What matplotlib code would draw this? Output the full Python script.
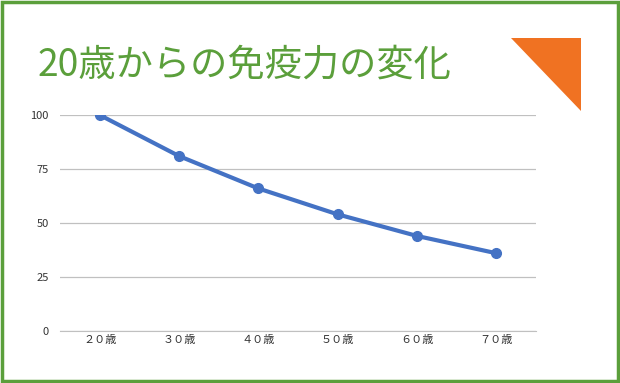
import matplotlib.pyplot as plt
from matplotlib.patches import Polygon, Rectangle

plt.rcParams['font.family'] = ['Noto Sans CJK JP', 'DejaVu Sans']

ages = ["２０歳", "３０歳", "４０歳", "５０歳", "６０歳", "７０歳"]
immunity = [100, 81, 66, 54, 44, 36]
yticks = [0, 25, 50, 75, 100]

fig = plt.figure(figsize=(6.2, 3.83), dpi=100)

# green frame round the whole picture
fig.patches.append(Rectangle((0.0025, 0.004), 0.995, 0.992, transform=fig.transFigure,
                             fill=False, edgecolor="#5b9f3b", linewidth=2.5))

# title
fig.text(38 / 620, 1 - 76 / 383, "20歳からの免疫力の変化", fontsize=26.8,
         color="#5b9f3b", ha="left", va="baseline")

# orange corner triangle
fig.patches.append(Polygon([(511 / 620, 1 - 38 / 383), (581 / 620, 1 - 38 / 383),
                            (581 / 620, 1 - 111 / 383)], closed=True,
                           transform=fig.transFigure, facecolor="#f07222", edgecolor="none"))

ax = fig.add_axes([60 / 620, 1 - 331 / 383, 476 / 620, 216 / 383])
x = [i + 0.5 for i in range(len(ages))]
ax.plot(x, immunity, color="#4472c4", linewidth=3, marker="o", markersize=7,
        solid_capstyle="round", zorder=3)

ax.set_xlim(0, len(ages))
ax.set_ylim(0, 100)
ax.set_yticks(yticks)
ax.set_xticks(x)
ax.set_xticklabels(ages)
ax.grid(axis="y", color="#c0c0c0", linewidth=0.9)
for s in ["top", "right", "left"]:
    ax.spines[s].set_visible(False)
ax.spines["bottom"].set_color("#c0c0c0")
ax.tick_params(axis="both", length=0, labelsize=8, colors="#333333")
ax.tick_params(axis="y", pad=8)
ax.tick_params(axis="x", pad=3)
ax.set_axisbelow(True)

fig.savefig("out.png", dpi=100)
